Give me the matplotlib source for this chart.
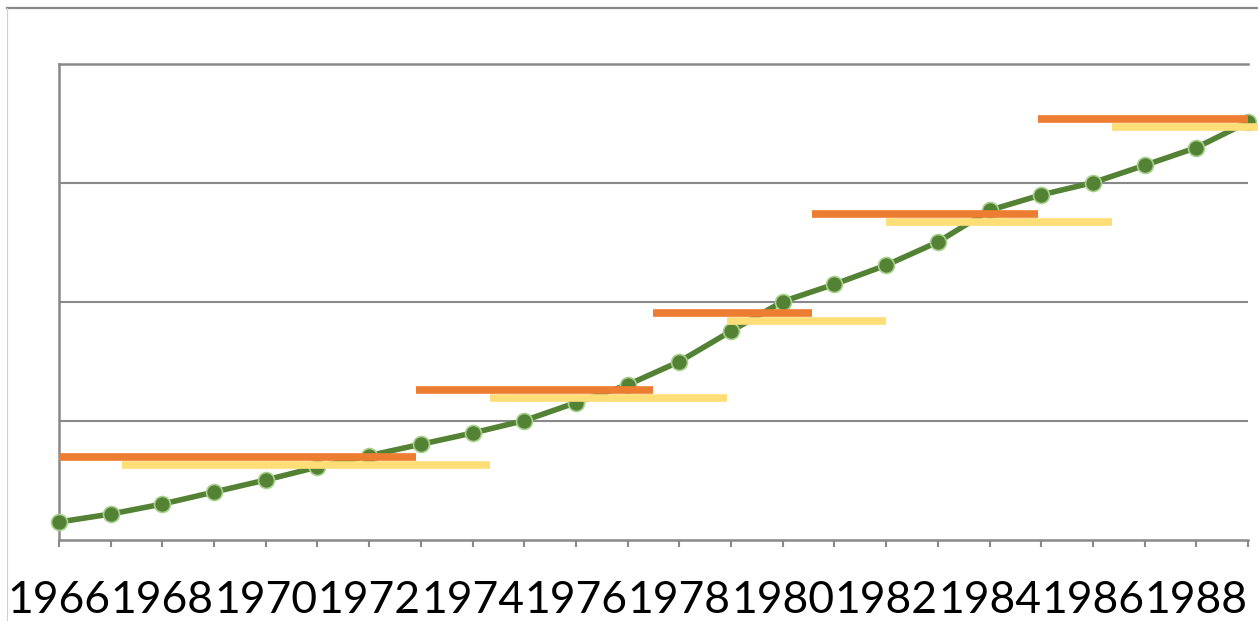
import numpy as np
import matplotlib.pyplot as plt
from matplotlib.lines import Line2D

# yearly series (green line with markers)
years = list(range(1966, 1990))
values = [0.147, 0.214, 0.298, 0.399, 0.500, 0.609, 0.705, 0.800, 0.895, 0.999,
          1.150, 1.300, 1.495, 1.751, 2.000, 2.145, 2.305, 2.500, 2.766, 2.896,
          2.999, 3.144, 3.293, 3.508]

# step levels (orange) : start, end, level
orange_start = [1966.0, 1972.91, 1977.49, 1980.57, 1984.94]
orange_end = [1972.91, 1977.49, 1980.57, 1984.94, 1989.0]
orange_level = [0.697, 1.259, 1.902, 2.733, 3.531]

# shifted step levels (yellow)
yellow_start = [1967.22, 1974.34, 1978.92, 1982.0, 1986.37]
yellow_end = [1974.34, 1978.92, 1982.0, 1986.37, 1989.19]
yellow_level = [0.630, 1.192, 1.835, 2.666, 3.464]

tick_labels = [str(y) if y % 2 == 0 else "" for y in years]

W, H = 1258, 621
fig = plt.figure(figsize=(W/100, H/100), dpi=100)
ax = fig.add_axes([59/W, 1-539.5/H, (1248-59)/W, (539.5-63.5)/H])

grey = "#898989"

ax.plot(years, values, color="#548235", lw=4, marker="o", markersize=11.5,
        markerfacecolor="#548235", markeredgecolor="#A9D18E", markeredgewidth=1.2,
        clip_on=False, zorder=3)

for s, e, v in zip(orange_start, orange_end, orange_level):
    ax.plot([s, e], [v, v], color="#ED7D31", lw=5.5, solid_capstyle="butt",
            clip_on=False, zorder=4)
for s, e, v in zip(yellow_start, yellow_end, yellow_level):
    ax.plot([s, e], [v, v], color="#FFDD77", lw=5.5, solid_capstyle="butt",
            clip_on=False, zorder=4)

ax.set_xlim(1966, 1989)
ax.set_ylim(0, 4)
ax.set_yticks([1, 2, 3, 4])
ax.yaxis.grid(True, color=grey, lw=1.5)
ax.set_axisbelow(True)
ax.tick_params(axis="y", left=False, labelleft=False)

ax.set_xticks(years)
ax.set_xticklabels(tick_labels, fontsize=32, family=["Lato", "DejaVu Sans"])
ax.tick_params(axis="x", direction="out", length=5, width=1.5, color=grey, pad=24)

for side in ["left", "bottom", "top"]:
    ax.spines[side].set_color(grey)
    ax.spines[side].set_linewidth(1.8)
ax.spines["right"].set_visible(False)

# outer chart border (cropped at right and bottom)
fig.add_artist(Line2D([7/W, 1], [1-8/H, 1-8/H], color=grey, lw=1.6))
fig.add_artist(Line2D([7/W, 7/W], [0, 1-8/H], color="#d0d0d0", lw=0.8))

fig.savefig("out.png", dpi=100)
